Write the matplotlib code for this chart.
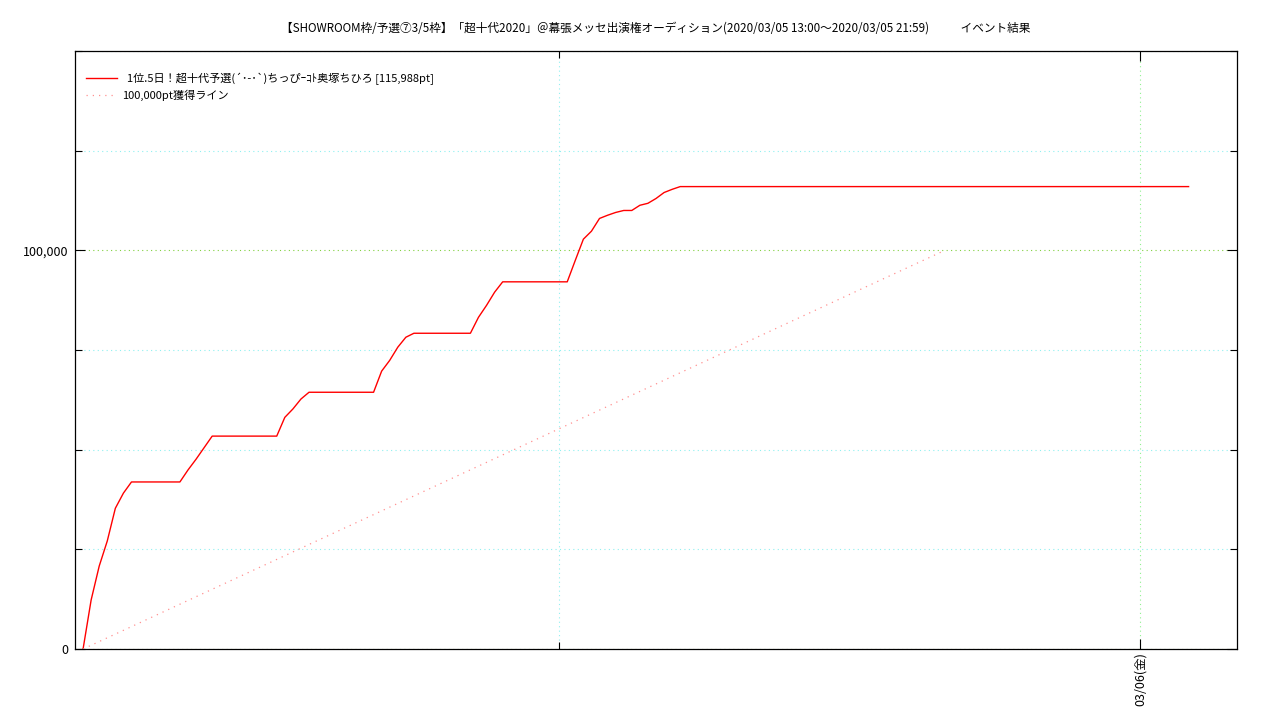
import matplotlib
matplotlib.use('Agg')
import matplotlib.pyplot as plt
import matplotlib.dates as mdates
import pandas as pd
from matplotlib.ticker import FixedLocator, MultipleLocator, FuncFormatter

plt.rcParams['font.family'] = ['Noto Sans CJK JP', 'DejaVu Sans']

title = ('【SHOWROOM枠/予選⑦3/5枠】「超十代2020」＠幕張メッセ出演権オーディション'
         '(2020/03/05 13:00～2020/03/05 21:59)            イベント結果')

# 獲得ポイントの推移 (5分ごと、変化点のみ)
times = ['2020-03-05 13:05', '2020-03-05 13:10', '2020-03-05 13:15', '2020-03-05 13:20',
         '2020-03-05 13:25', '2020-03-05 13:30', '2020-03-05 13:35', '2020-03-05 14:05',
         '2020-03-05 14:10', '2020-03-05 14:15', '2020-03-05 14:20', '2020-03-05 14:25',
         '2020-03-05 15:05', '2020-03-05 15:10', '2020-03-05 15:15', '2020-03-05 15:20',
         '2020-03-05 15:25', '2020-03-05 16:05', '2020-03-05 16:10', '2020-03-05 16:15',
         '2020-03-05 16:20', '2020-03-05 16:25', '2020-03-05 16:30', '2020-03-05 17:05',
         '2020-03-05 17:10', '2020-03-05 17:15', '2020-03-05 17:20', '2020-03-05 17:25',
         '2020-03-05 18:05', '2020-03-05 18:10', '2020-03-05 18:15', '2020-03-05 18:20',
         '2020-03-05 18:25', '2020-03-05 18:30', '2020-03-05 18:35', '2020-03-05 18:40',
         '2020-03-05 18:45', '2020-03-05 18:50', '2020-03-05 18:55', '2020-03-05 19:00',
         '2020-03-05 19:05', '2020-03-05 19:10', '2020-03-05 19:15', '2020-03-06 00:30']
points = [0, 12300, 20800, 27100,
          35300, 39100, 41900, 41900,
          44900, 47600, 50500, 53400,
          53400, 58100, 60200, 62700,
          64400, 64400, 69700, 72400,
          75700, 78200, 79200, 79200,
          83200, 86200, 89500, 92100,
          92100, 97500, 102800, 104800,
          108000, 108800, 109500, 110000,
          110000, 111300, 111800, 113000,
          114500, 115300, 115988, 115988]

# 100,000pt獲得ライン
goal_times = ['2020-03-05 13:05', '2020-03-05 21:59']
goal_points = [0, 100000]

series_label = '  1位.5日！超十代予選(´･-･`)ちっぴｰｺﾄ奥塚ちひろ [115,988pt]'
goal_label = '100,000pt獲得ライン'

t = pd.to_datetime(times)
gt = pd.to_datetime(goal_times)

fig = plt.figure(figsize=(12.8, 7.2), dpi=100)
ax = fig.add_axes([75 / 1280, 71 / 720, 1162 / 1280, 598 / 720])

ax.plot(t, points, color='#ff0000', lw=1.0, label=series_label)
ax.plot(gt, goal_points, color='#ff9090', lw=0.9, ls=(0, (1, 4)), label=goal_label)

ax.set_xlim(pd.Timestamp('2020-03-05 13:00'), pd.Timestamp('2020-03-06 01:00'))
ax.set_ylim(0, 150000)

# 目盛り: 主目盛りのみラベル付き
ax.yaxis.set_major_locator(FixedLocator([0, 100000]))
ax.yaxis.set_minor_locator(MultipleLocator(25000))
ax.yaxis.set_major_formatter(FuncFormatter(lambda v, p: f'{int(v):,}'))
ax.xaxis.set_major_locator(FixedLocator([mdates.date2num(pd.Timestamp('2020-03-06 00:00'))]))
ax.xaxis.set_minor_locator(FixedLocator([mdates.date2num(pd.Timestamp('2020-03-05 18:00'))]))
ax.xaxis.set_major_formatter(FuncFormatter(lambda v, p: '03/06(金)'))
plt.setp(ax.get_xticklabels(), rotation=90, ha='center', va='top')

ax.tick_params(which='both', direction='in', top=True, right=True, labelsize=9,
               width=0.8, color='black')
ax.tick_params(axis='y', pad=5)
ax.tick_params(axis='x', pad=2)
ax.tick_params(which='major', length=7)
ax.tick_params(which='minor', length=5)

ax.grid(which='major', axis='y', color='#80d040', ls=(0, (1, 3)), lw=0.8)
ax.grid(which='major', axis='x', color='#90f090', ls=(0, (1, 3)), lw=0.8)
ax.grid(which='minor', color='#90f0f0', ls=(0, (1, 3)), lw=0.8)
ax.set_axisbelow(True)

for s in ax.spines.values():
    s.set_linewidth(0.9)

ax.set_title(title, fontsize=8.4, pad=14)
ax.legend(loc='upper left', bbox_to_anchor=(0.0, 0.983), frameon=False, fontsize=8,
          handlelength=2.8, handletextpad=0.4, borderaxespad=0.6, labelspacing=0.48)

fig.savefig('out.png', dpi=100)
